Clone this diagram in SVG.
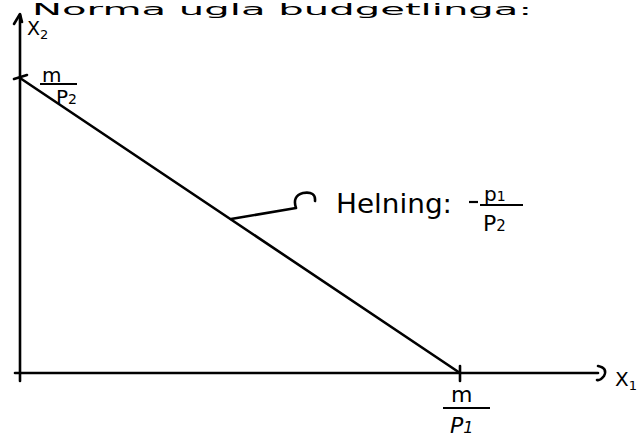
<svg xmlns="http://www.w3.org/2000/svg" width="639" height="439" viewBox="0 0 639 439">
<style>
.ln{stroke:#000;stroke-width:2.6;fill:none;stroke-linecap:round;stroke-linejoin:round}
.t{font-family:"DejaVu Sans","Liberation Sans",sans-serif;fill:#000}
.bar{stroke:#000;stroke-width:2.2;fill:none}
</style>
<rect width="639" height="439" fill="#fff"/>
<g id="title">
<text class="t" x="32" y="15" font-size="15" textLength="500" lengthAdjust="spacingAndGlyphs">Norma ugla budgetlinga:</text>
</g>
<g id="connectors">
<line class="ln" x1="20" y1="15" x2="20" y2="381"/>
<polyline class="ln" points="14,24 20,14 22,22" stroke-width="2"/>
<line class="ln" x1="15" y1="373" x2="598" y2="373"/>
<path class="ln" d="M598,366 Q608,368 604,376 Q600,381 597,380" stroke-width="2"/>
<line class="ln" x1="20" y1="78" x2="460" y2="373"/>
<line class="ln" x1="14" y1="79" x2="27" y2="75" stroke-width="2"/>
<line class="ln" x1="460" y1="366" x2="460" y2="381" stroke-width="2.4"/>
<path class="ln" d="M231,219 L296,208 Q292,196 303,193 Q316,191 315,201" stroke-width="2.2"/>
</g>
<g id="x2-label">
<text class="t" x="27" y="35" font-size="19">X<tspan font-size="13" dy="4">2</tspan></text>
</g>
<g id="m-p2">
<text class="t" x="42" y="82" font-size="20">m</text>
<line class="bar" x1="40" y1="84" x2="77" y2="84"/>
<text class="t" x="56" y="104" font-size="20">P<tspan font-size="14">2</tspan></text>
</g>
<g id="slope-label">
<text class="t" x="336" y="213" font-size="27" textLength="116" lengthAdjust="spacingAndGlyphs">Helning:</text>
<line class="bar" x1="469" y1="202" x2="478" y2="202"/>
<text class="t" x="484" y="201" font-size="20">p<tspan font-size="14">1</tspan></text>
<line class="bar" x1="480" y1="205" x2="523" y2="205"/>
<text class="t" x="483" y="231" font-size="22">P<tspan font-size="15">2</tspan></text>
</g>
<g id="m-p1">
<text class="t" x="451" y="402" font-size="22">m</text>
<line class="bar" x1="443" y1="408" x2="490" y2="408"/>
<text class="t" x="450" y="433" font-size="22" font-style="italic">P<tspan font-size="16">1</tspan></text>
</g>
<g id="x1-label">
<text class="t" x="615" y="386" font-size="20">X<tspan font-size="13" dy="4">1</tspan></text>
</g>
</svg>
